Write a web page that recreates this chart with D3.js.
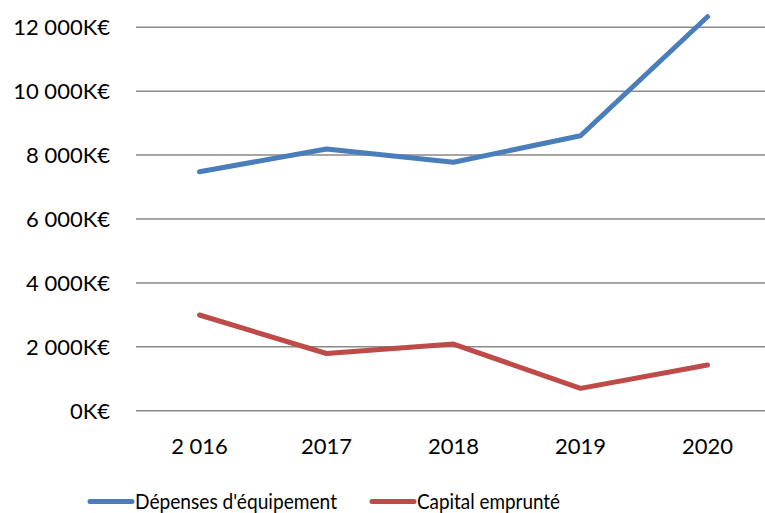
<!DOCTYPE html>
<html>
<head>
<meta charset="utf-8">
<script src="https://cdn.jsdelivr.net/npm/d3@7"></script>
<style>
  body { margin: 0; background: #fff; }
  svg { display: block; font-family: Lato, "Open Sans", sans-serif; }
</style>
</head>
<body>
<svg id="chart" width="765" height="513"></svg>
<script>
// Data (K€)
const years = ['2 016', '2017', '2018', '2019', '2020'];
const depenses = [7480, 8190, 7775, 8605, 12330];
const capital = [2995, 1790, 2085, 700, 1430];
const yTicks = [0, 2000, 4000, 6000, 8000, 10000, 12000];

const series = [
  { name: "Dépenses d'équipement", values: depenses, color: '#4a7ebb' },
  { name: 'Capital emprunté', values: capital, color: '#be4b48' }
];

const svg = d3.select('#chart');
const plot = { left: 136, right: 771, top: 27.3, bottom: 410.7 };

const x = d3.scalePoint()
  .domain(years)
  .range([plot.left, plot.right])
  .padding(0.5);

const y = d3.scaleLinear()
  .domain([0, 12000])
  .range([plot.bottom, plot.top]);

const fmt = v => d3.format(',')(v).replace(/,/g, ' ') + 'K€';

// gridlines
svg.append('g')
  .selectAll('line')
  .data(yTicks)
  .join('line')
  .attr('x1', plot.left)
  .attr('x2', plot.right)
  .attr('y1', d => y(d))
  .attr('y2', d => y(d))
  .attr('stroke', '#898989')
  .attr('stroke-width', 1.5);

// y labels
svg.append('g')
  .selectAll('text')
  .data(yTicks)
  .join('text')
  .attr('x', 110)
  .attr('y', d => y(d))
  .attr('dy', '0.36em')
  .attr('text-anchor', 'end')
  .attr('font-size', 22)
  .attr('fill', '#000')
  .text(fmt);

// x labels
svg.append('g')
  .selectAll('text')
  .data(years)
  .join('text')
  .attr('x', d => x(d))
  .attr('y', 454)
  .attr('text-anchor', 'middle')
  .attr('font-size', 22)
  .attr('fill', '#000')
  .text(d => d);

// lines
const line = d3.line()
  .x((d, i) => x(years[i]))
  .y(d => y(d));

svg.append('g')
  .selectAll('path')
  .data(series)
  .join('path')
  .attr('d', d => line(d.values))
  .attr('fill', 'none')
  .attr('stroke', d => d.color)
  .attr('stroke-width', 5)
  .attr('stroke-linecap', 'round')
  .attr('stroke-linejoin', 'round');

// legend (text is squeezed in the original)
const legendX = [90, 372];
const legendW = [202, 143];
const legend = svg.append('g')
  .selectAll('g')
  .data(series)
  .join('g')
  .attr('transform', (d, i) => `translate(${legendX[i]},501.5)`);

legend.append('line')
  .attr('x1', 0)
  .attr('x2', 42)
  .attr('stroke', d => d.color)
  .attr('stroke-width', 5)
  .attr('stroke-linecap', 'round');

legend.append('text')
  .attr('x', 45)
  .attr('dy', '0.36em')
  .attr('font-size', 22)
  .attr('fill', '#000')
  .attr('textLength', (d, i) => legendW[i])
  .attr('lengthAdjust', 'spacingAndGlyphs')
  .text(d => d.name);
</script>
</body>
</html>
